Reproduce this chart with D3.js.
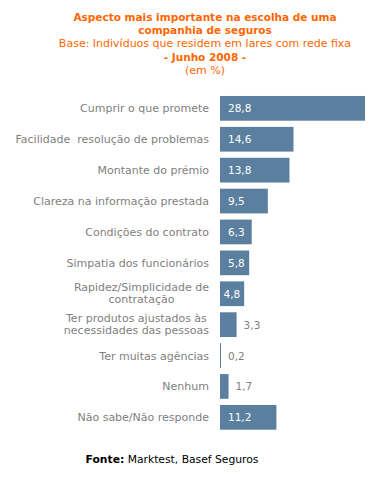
<!DOCTYPE html>
<html><head><meta charset="utf-8">
<script src="https://cdn.jsdelivr.net/npm/d3@7/dist/d3.min.js"></script>
<style>
body{margin:0;background:#fff;}
svg{display:block;font-family:"DejaVu Sans",Verdana,sans-serif;}
text{white-space:pre;}
</style></head>
<body>
<svg id="chart" width="382" height="485"></svg>
<script>
const categories = [
  ["Cumprir o que promete"],
  ["Facilidade  resolução de problemas"],
  ["Montante do prémio"],
  ["Clareza na informação prestada"],
  ["Condições do contrato"],
  ["Simpatia dos funcionários"],
  ["Rapidez/Simplicidade de","contratação"],
  ["Ter produtos ajustados às","necessidades das pessoas"],
  ["Ter muitas agências"],
  ["Nenhum"],
  ["Não sabe/Não responde"]
];
const values = [28.8, 14.6, 13.8, 9.5, 6.3, 5.8, 4.8, 3.3, 0.2, 1.7, 11.2];
const valueLabels = ["28,8","14,6","13,8","9,5","6,3","5,8","4,8","3,3","0,2","1,7","11,2"];
const titleLines = [
  {text:"Aspecto mais importante na escolha de uma", bold:true},
  {text:"companhia de seguros", bold:true},
  {text:"Base: Indivíduos que residem em lares com rede fixa", bold:false},
  {text:"- Junho 2008 -", bold:true},
  {text:"(em %)", bold:false}
];

const svg = d3.select("#chart");
const orange = "#ff6600";
const barColor = "#5b7f9f";
const fs = 11;

// title
titleLines.forEach((t,i)=>{
  svg.append("text").attr("x",205).attr("y",21+i*13.2)
    .attr("text-anchor","middle").attr("fill",orange)
    .attr("font-size",t.bold?10.5:11).attr("font-weight",t.bold?"bold":"normal")
    .text(t.text);
});

const x = d3.scaleLinear().domain([0,28.8]).range([220,365]);
const y = d3.scaleBand().domain(d3.range(values.length)).range([92.9,432.8])
  .paddingInner(0.2).paddingOuter(0.1);

const g = svg.append("g");
values.forEach((v,i)=>{
  const y0 = y(i), bw = y.bandwidth(), cy = y0+bw/2;
  g.append("rect").attr("x",x(0)).attr("y",y0)
    .attr("width",Math.max(1,x(v)-x(0))).attr("height",bw).attr("fill",barColor);
  // category label
  const lines = categories[i];
  if(lines.length===1){
    g.append("text").attr("x",209).attr("y",cy+4).attr("text-anchor","end")
      .attr("fill","#808080").attr("font-size",fs).text(lines[0]);
  } else {
    const ts = lines.map((l,k)=>g.append("text").attr("y",cy-3+k*12)
      .attr("fill","#808080").attr("font-size",fs).attr("text-anchor","middle").text(l));
    const mw = d3.max(ts,t=>t.node().getComputedTextLength());
    ts.forEach(t=>t.attr("x",209-mw/2));
  }
  // value label
  const vt = g.append("text").attr("y",cy+4).attr("font-size",10.5).text(valueLabels[i]);
  const tw = vt.node().getComputedTextLength();
  const end = x(v);
  if(end - x(0) >= tw + 6){
    vt.attr("x",Math.min(228,end-tw-4)).attr("fill","#fff");
  } else {
    vt.attr("x",end+7).attr("fill","#808080");
  }
});

// footer
const f = svg.append("text").attr("x",172).attr("y",463).attr("text-anchor","middle")
  .attr("font-size",10.75).attr("fill","#000");
f.append("tspan").attr("font-weight","bold").text("Fonte:");
f.append("tspan").text(" Marktest, Basef Seguros");
</script>
</body></html>
